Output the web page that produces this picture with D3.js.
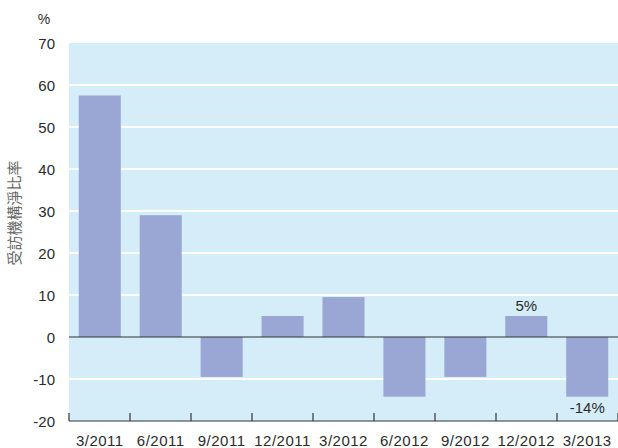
<!DOCTYPE html>
<html>
<head>
<meta charset="utf-8">
<script src="https://cdn.jsdelivr.net/npm/d3@7"></script>
<style>
  body { margin: 0; background: #fff; }
  text { font-family: "Liberation Sans", Arial, sans-serif; fill: #2b2b2b; }
</style>
</head>
<body>
<svg id="chart" width="618" height="448"></svg>
<script>
var categories = ['3/2011','6/2011','9/2011','12/2011','3/2012','6/2012','9/2012','12/2012','3/2013'];
var values = [57.5, 29, -9.5, 5, 9.5, -14.2, -9.5, 5, -14.2];
var yTicks = [-20, -10, 0, 10, 20, 30, 40, 50, 60, 70];
var barLabels = {'12/2012': '5%', '3/2013': '-14%'};

var svg = d3.select('#chart');
var mLeft = 69, mRight = 618, mTop = 43, mBottom = 421;

var x = d3.scaleBand().domain(categories).range([mLeft, mRight]).paddingInner(0.31).paddingOuter(0.16);
var y = d3.scaleLinear().domain([-20, 70]).range([mBottom, mTop]);

// plot background
svg.append('rect')
  .attr('x', mLeft).attr('y', mTop)
  .attr('width', mRight - mLeft).attr('height', mBottom - mTop)
  .attr('fill', '#d5ecf9');

// white grid lines
svg.selectAll('.grid').data(yTicks.filter(function(d){ return d != 0 && d != -20 && d != 70; }))
  .enter().append('line')
  .attr('x1', mLeft).attr('x2', mRight)
  .attr('y1', function(d){ return y(d); }).attr('y2', function(d){ return y(d); })
  .attr('stroke', '#fff').attr('stroke-width', 2);

// bars
svg.selectAll('.bar').data(values).enter().append('rect')
  .attr('x', function(d,i){ return x(categories[i]); })
  .attr('width', x.bandwidth())
  .attr('y', function(d){ return y(Math.max(0, d)); })
  .attr('height', function(d){ return Math.abs(y(d) - y(0)); })
  .attr('fill', '#9aa6d3');

// zero line
svg.append('line')
  .attr('x1', mLeft).attr('x2', mRight)
  .attr('y1', y(0)).attr('y2', y(0))
  .attr('stroke', '#333').attr('stroke-width', 1.2);

// y axis labels
svg.selectAll('.ylab').data(yTicks).enter().append('text')
  .attr('x', 55).attr('y', function(d){ return y(d) + 5.5; })
  .attr('text-anchor', 'end').attr('font-size', 15)
  .text(function(d){ return d; });

svg.append('text').attr('x', 44).attr('y', 24)
  .attr('text-anchor', 'middle').attr('font-size', 14).text('%');

svg.append('text')
  .attr('transform', 'translate(20,' + 213 + ') rotate(-90)')
  .attr('text-anchor', 'middle').attr('font-size', 15)
  .attr('style', 'font-family: "Noto Sans CJK TC", sans-serif; fill:#666')
  .text('受訪機構淨比率');

// x axis
var xAxis = svg.append('g').attr('transform', 'translate(0,' + mBottom + ')');
xAxis.append('line').attr('x1', mLeft).attr('x2', mRight).attr('y1', 0).attr('y2', 0)
  .attr('stroke', '#333').attr('stroke-width', 1.2);
var tickX = d3.range(categories.length + 1).map(function(i){ return mLeft + i * (mRight - mLeft) / categories.length; });
xAxis.selectAll('.tick').data(tickX).enter().append('line')
  .attr('x1', function(d){ return d; }).attr('x2', function(d){ return d; })
  .attr('y1', 0).attr('y2', -8)
  .attr('stroke', '#333').attr('stroke-width', 1.2);
xAxis.selectAll('.xlab').data(categories).enter().append('text')
  .attr('x', function(d){ return x(d) + x.bandwidth() / 2; })
  .attr('y', 25).attr('text-anchor', 'middle').attr('font-size', 15)
  .attr('letter-spacing', 0.5)
  .text(function(d){ return d; });

// value labels
var labelled = categories.map(function(c,i){ return {cat: c, v: values[i]}; })
  .filter(function(d){ return barLabels[d.cat]; });
svg.selectAll('.vlab').data(labelled).enter().append('text')
  .attr('x', function(d){ return x(d.cat) + x.bandwidth() / 2; })
  .attr('y', function(d){ return d.v > 0 ? y(d.v) - 5 : y(d.v) + 16; })
  .attr('text-anchor', 'middle').attr('font-size', 15)
  .text(function(d){ return barLabels[d.cat]; });
</script>
</body>
</html>
